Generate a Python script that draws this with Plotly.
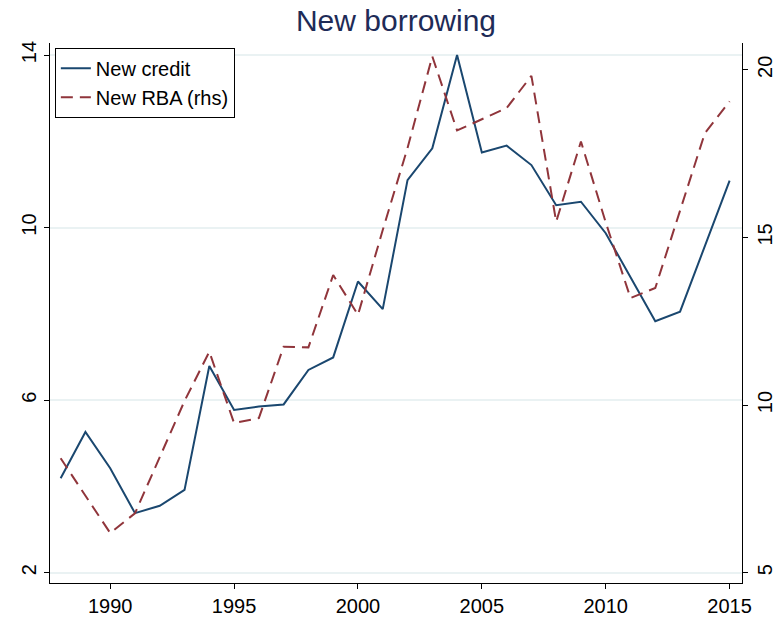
import plotly.graph_objects as go

# Annual observations
years = list(range(1988, 2016))

# New credit (left axis)
new_credit = [4.19, 5.26, 4.42, 3.38, 3.55, 3.92, 6.79, 5.77, 5.85, 5.90,
              6.70, 6.99, 8.75, 8.11, 11.10, 11.84, 14.00, 11.74, 11.90, 11.45,
              10.52, 10.60, 9.87, 8.86, 7.83, 8.05, 9.56, 11.09]

# New RBA (right axis)
new_rba = [8.41, 7.29, 6.18, 6.77, 8.45, 10.12, 11.59, 9.46, 9.61, 11.74,
           11.72, 13.88, 12.69, 15.22, 17.67, 20.40, 18.19, 18.52, 18.86, 19.82,
           15.47, 17.86, 15.45, 13.19, 13.49, 15.80, 18.11, 19.06]

left_ticks = [2, 6, 10, 14]
right_ticks = [5, 10, 15, 20]
x_ticks = [1990, 1995, 2000, 2005, 2010, 2015]

NAVY = "#1a476f"
MAROON = "#90353b"
FONT = "Liberation Sans, Arial, sans-serif"

fig = go.Figure()
fig.add_trace(go.Scatter(
    x=years, y=new_credit, name="New credit", mode="lines",
    line=dict(color=NAVY, width=2), yaxis="y"))
fig.add_trace(go.Scatter(
    x=years, y=new_rba, name="New RBA (rhs)", mode="lines",
    line=dict(color=MAROON, width=2, dash="12px,7px"), yaxis="y2"))

axis_common = dict(
    showline=True, linecolor="black", linewidth=1,
    ticks="outside", ticklen=5, tickcolor="black", tickwidth=1,
    tickfont=dict(family=FONT, size=20, color="black"),
    zeroline=False, automargin=False,
)

fig.update_layout(
    width=777, height=618,
    margin=dict(l=50, r=35, t=43, b=35),
    paper_bgcolor="white", plot_bgcolor="white",
    font=dict(family=FONT, color="black"),
    title=dict(text="New borrowing", x=(50 + 742) / 2 / 777, xanchor="center",
               y=1 - 20 / 618, yanchor="middle",
               font=dict(family=FONT, size=30, color="#1e2b57")),
    xaxis=dict(range=[1987.57, 2015.5], tickvals=x_ticks, showgrid=False,
               **axis_common),
    yaxis=dict(range=[1.76, 14.28], tickvals=left_ticks, tickangle=-90,
               showgrid=True, gridcolor="#eaf2f3", gridwidth=1.5,
               **axis_common),
    yaxis2=dict(range=[4.69, 20.8], tickvals=right_ticks, tickangle=-90,
                overlaying="y", side="right", showgrid=False,
                **axis_common),
    legend=dict(x=0.007, y=0.991, xanchor="left", yanchor="top",
                bgcolor="white", bordercolor="black", borderwidth=1,
                font=dict(family=FONT, size=20, color="black"),
                tracegroupgap=0, itemwidth=30),
    showlegend=True,
)

fig.write_html("out.html")
